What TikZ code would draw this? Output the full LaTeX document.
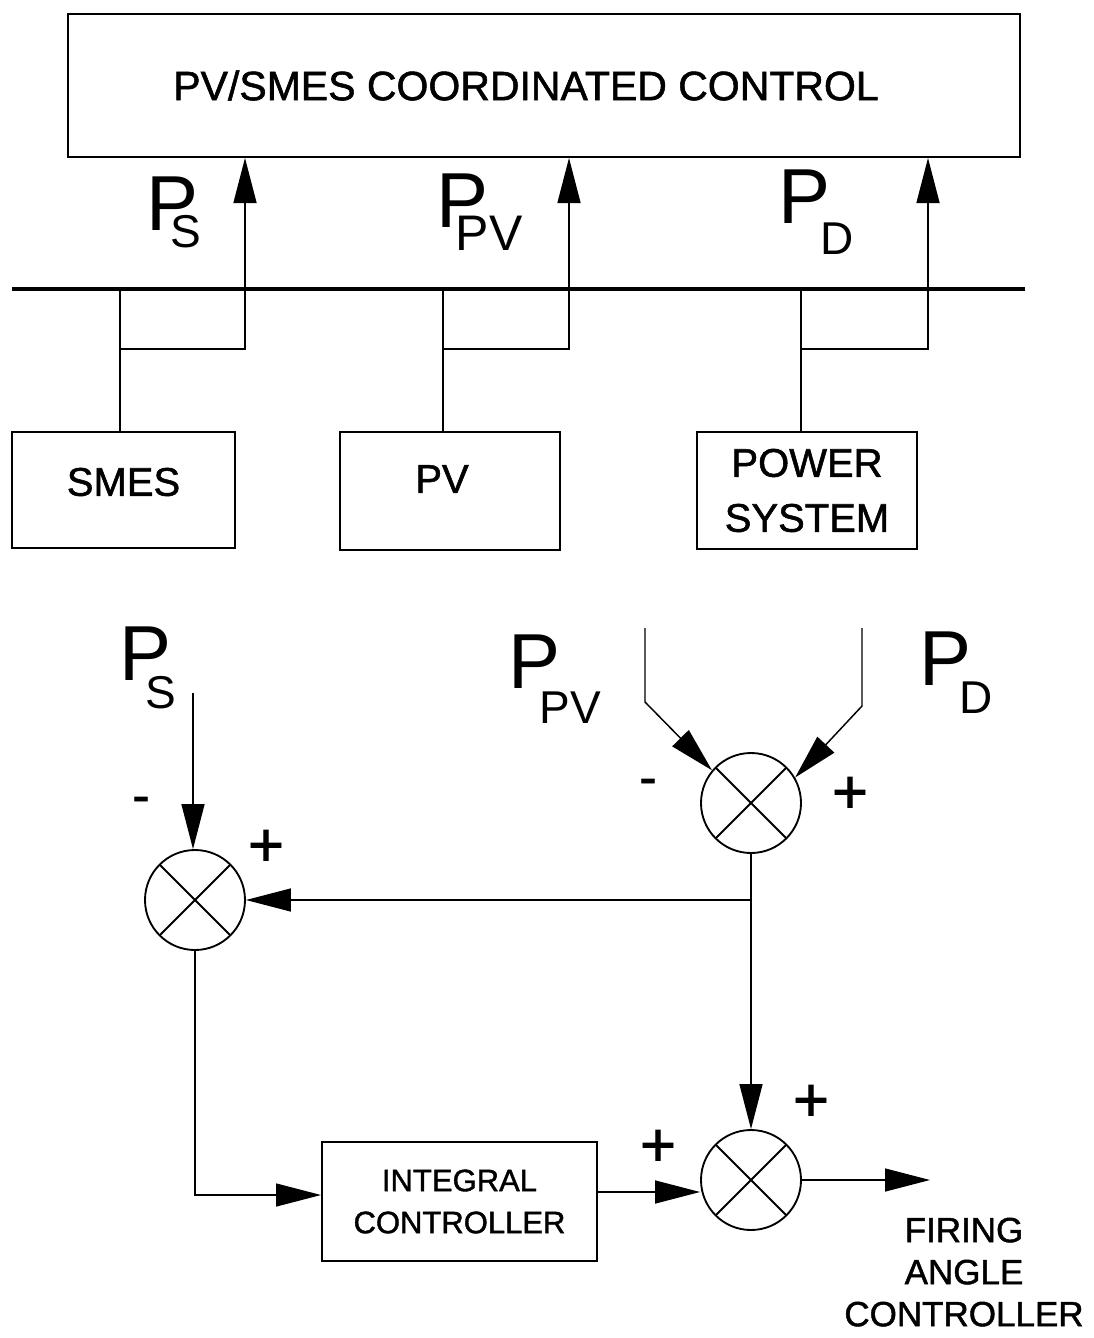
\documentclass[tikz,border=0pt]{standalone}
\usepackage{fontspec}
\setmainfont{Liberation Sans}
\newfontfamily\medium[FakeBold=1.3]{Liberation Sans}
\usetikzlibrary{arrows.meta}
\newdimen\px \px=0.75pt
\newcommand\Plab[4]{P\kern#1\px\raisebox{#2\px}{\fontsize{#3pt}{#3pt}\selectfont #4}}
\newcommand\up[2]{\raisebox{#1\px}[\height][\depth]{#2}}
\begin{document}
\begin{tikzpicture}[x=0.75pt, y=-0.75pt, line width=1.1pt,
  box/.style={draw, line width=1.5pt, inner sep=0pt},
  sumj/.style={circle, draw, line width=1.4pt, minimum size=75pt, inner sep=0pt,
    path picture={\draw[line width=1.4pt] (path picture bounding box.north west) -- (path picture bounding box.south east)
      (path picture bounding box.north east) -- (path picture bounding box.south west);}},
  arr/.style={-{Triangle[length=33.75pt,width=17.25pt]}},
  plab/.style={font=\fontsize{58.5pt}{58.5pt}\selectfont, inner sep=0pt, anchor=base west},
  bxtext/.style={font=\medium\fontsize{30pt}{41.25pt}\selectfont},
  sign/.style={inner sep=0pt},
  plus/.style={sign, font=\medium\fontsize{46.5pt}{46.5pt}\selectfont},
  minus/.style={sign, font=\medium\fontsize{39pt}{39pt}\selectfont}]
\fill[white] (0,0) rectangle (1094,1338);
\useasboundingbox (0,0) rectangle (1094,1338);

% ---------- top part ----------
\node[box, minimum width=714pt, minimum height=107.25pt, font=\medium\fontsize{30.75pt}{36pt}\selectfont]
  (ctrl) at (544,85.5) {\hspace*{-36\px}PV/SMES COORDINATED CONTROL};

\node[box, bxtext, minimum width=167.25pt, minimum height=87pt] (smes) at (123.5,490) {\up{8}{SMES}};
\node[box, bxtext, minimum width=165pt, minimum height=88.5pt] (pv) at (450,491) {\hspace*{-16\px}\up{12}{PV}};
\node[box, bxtext, minimum width=165pt, minimum height=87.75pt, align=center] (psys) at (807,490.5) {POWER\\SYSTEM};

\coordinate (bus1) at (12,289);
\coordinate (bus2) at (1025,289);
\draw[line width=3pt] (bus1) -- (bus2);

\coordinate (b1) at (120,289); \coordinate (j1) at (120,349); \coordinate (a1) at (245,349);
\coordinate (b2) at (443,289); \coordinate (j2) at (443,349); \coordinate (a2) at (569,349);
\coordinate (b3) at (801,289); \coordinate (j3) at (801,349); \coordinate (a3) at (928,349);

\draw (b1) -- (smes.north -| b1);
\draw (b2) -- (pv.north -| b2);
\draw (b3) -- (psys.north -| b3);
\draw[arr] (j1) -- (a1) -- (ctrl.south -| a1);
\draw[arr] (j2) -- (a2) -- (ctrl.south -| a2);
\draw[arr] (j3) -- (a3) -- (ctrl.south -| a3);

\node[plab] (psT) at (146,230) {\Plab{-28}{-17}{34.5}{S}};
\node[plab] (ppvT) at (436,227) {\Plab{-33}{-23}{37.5}{PV}};
\node[plab] (pdT) at (778,223) {\Plab{-10}{-31}{34.5}{D}};

% ---------- bottom part ----------
\node[sumj] (c1) at (195,900) {};
\node[sumj] (c2) at (751,803) {};
\node[sumj] (c3) at (751,1180) {};
\node[box, minimum width=206.25pt, minimum height=89.25pt, align=center,
  font=\medium\fontsize{23.25pt}{31.5pt}\selectfont] (int) at (459.5,1201.5) {INTEGRAL\\CONTROLLER};

\node[plab] (psL) at (119,680) {\Plab{-26}{-28}{34.5}{S}};
\node[plab] (ppvL) at (508,688) {\Plab{-21}{-35}{34.5}{PV}};
\node[plab] (pdL) at (919,685) {\Plab{-12}{-28}{34.5}{D}};

\coordinate (psin) at (193,693);
\draw[arr] (psin) -- (psin |- c1.north);

\coordinate (ppv) at (645,628); \coordinate (ppvk) at (645,702);
\coordinate (pd) at (862,628);  \coordinate (pdk) at (862,706);
\draw[arr] (ppv) -- (ppvk) -- (c2.140);
\draw[arr] (pd) -- (pdk) -- (c2.30);

\coordinate (jn) at (751,900);
\draw[arr] (c2.south) -- (c3.north);
\draw[arr] (jn) -- (c1.east);
\draw[arr] (c1.south) |- (int.west |- 0,1195);
\draw[arr] (int.east |- 0,1192) -- (c3.west |- 0,1192);
\coordinate (out) at (930,1181);
\draw[arr] (c3.east) -- (out |- c3.east);

\node[minus] (m1) at (141,805) {-};
\node[plus]  (p1) at (266,848) {+};
\node[minus] (m2) at (648,787) {-};
\node[plus]  (p2) at (850,795) {+};
\node[plus]  (p3) at (811,1103) {+};
\node[plus]  (p4) at (658,1148) {+};

\node[inner sep=0pt, anchor=north, align=center, font=\medium\fontsize{26.25pt}{31.5pt}\selectfont]
  (fac) at (964,1217) {FIRING\\ANGLE\\CONTROLLER};
\end{tikzpicture}
\end{document}
